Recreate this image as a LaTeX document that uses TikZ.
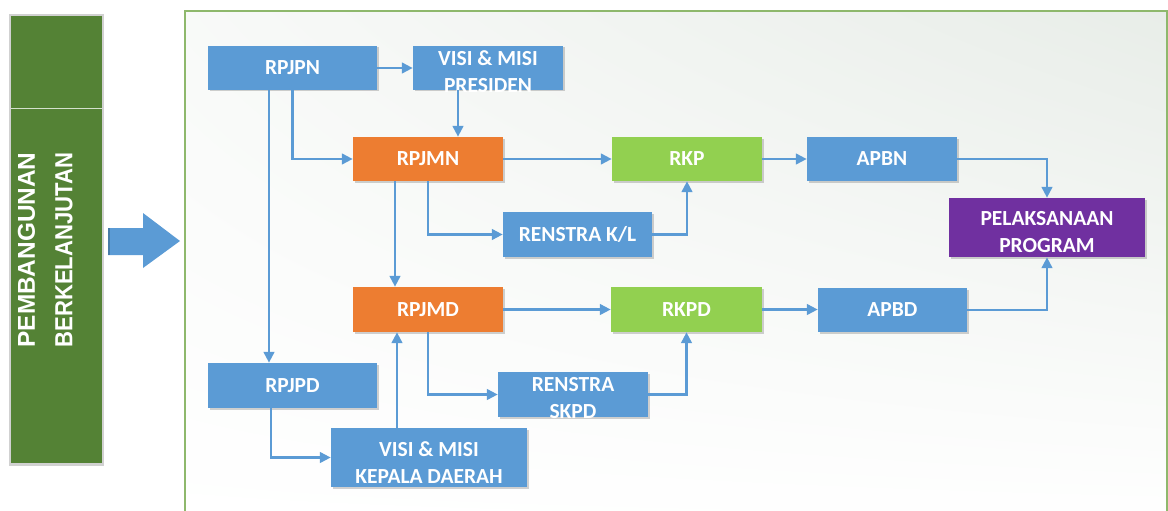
\documentclass[tikz,border=0pt]{standalone}
\usepackage{fontspec}
\setmainfont{Carlito}[BoldFont={Carlito Bold}]
\newfontfamily\sidefont{Liberation Sans Bold}
\usetikzlibrary{arrows.meta,shadows,shadings,calc}
\definecolor{cblue}{HTML}{5B9BD5}
\definecolor{corange}{HTML}{ED7D31}
\definecolor{clime}{HTML}{92D050}
\definecolor{cpurple}{HTML}{7030A0}
\definecolor{cdgreen}{HTML}{548235}
\definecolor{cframe}{HTML}{8EB86C}
\definecolor{cpanel}{HTML}{E8EDE8}
\begin{document}
\begin{tikzpicture}[x=1pt,y=-1pt,
  boxbase/.style={inner sep=0pt, text=white, align=center,
    font=\fontsize{21.5}{27}\selectfont\bfseries,
    drop shadow={shadow xshift=1.5pt, shadow yshift=-1.5pt, opacity=0.3, fill=black!60}},
  bluebox/.style={boxbase, fill=cblue},
  orangebox/.style={boxbase, fill=corange},
  limebox/.style={boxbase, fill=clime},
  purplebox/.style={boxbase, fill=cpurple},
  txt/.style={inner sep=0pt, text=white, align=center,
    font=\fontsize{21.5}{27}\selectfont\bfseries},
  conn/.style={draw=cblue, line width=2.8pt},
  arr/.style={conn, -{Triangle[length=11pt,width=10.5pt]}},
]
\useasboundingbox (0,0) rectangle (1168,511);
% panel
\shade[upper right=cpanel, upper left=cpanel!30!white, lower left=white, lower right=white] (185,11) rectangle (1167,530);
\draw[cframe, line width=1.6pt] (185,530) -- (185,11) -- (1167,11) -- (1167,530);

% left bar
\fill[black!18] (9,14) rectangle (104,466);
\node[fill=cdgreen, minimum width=91pt, minimum height=447pt, inner sep=0pt] (bar) at (56.5,239.5) {};
\draw[white!75!cdgreen, line width=1pt] (bar.west |- 0,108) -- (bar.east |- 0,108);
\node[rotate=90, text=white, inner sep=0pt] (l1) at (26.5,250) {\resizebox{195pt}{17pt}{\sidefont PEMBANGUNAN}};
\node[rotate=90, text=white, inner sep=0pt] (l2) at (64,250) {\resizebox{195pt}{17pt}{\sidefont BERKELANJUTAN}};

% big arrow
\fill[cblue] (108,228) -- (143,228) -- (143,213) -- (180,241) -- (143,268) -- (143,255) -- (108,255) -- cycle;
\fill[cblue!80!black] (108,228) rectangle (110,255);

% nodes
\node[bluebox, minimum width=169pt, minimum height=44pt] (rpjpn) at (292.5,68) {RPJPN};
\node[bluebox, minimum width=150pt, minimum height=44pt] (visip) at (488,68) {};
\node[txt] (visipt) at (488,71.5) {VISI \& MISI\\PRESIDEN};
\node[orangebox, minimum width=150pt, minimum height=44pt] (rpjmn) at (428,159) {RPJMN};
\node[limebox, minimum width=150pt, minimum height=44pt] (rkp) at (687,159) {RKP};
\node[bluebox, minimum width=150pt, minimum height=44pt] (apbn) at (882,159) {APBN};
\node[bluebox, minimum width=149pt, minimum height=45pt] (renkl) at (577.5,234.5) {RENSTRA K/L};
\node[purplebox, minimum width=196pt, minimum height=59pt] (pelak) at (1047,227.5) {};
\node[txt] (pelakt) at (1047,232) {PELAKSANAAN\\PROGRAM};
\node[orangebox, minimum width=150pt, minimum height=45pt] (rpjmd) at (428,309.5) {RPJMD};
\node[limebox, minimum width=151pt, minimum height=45pt] (rkpd) at (686.5,309.5) {RKPD};
\node[bluebox, minimum width=149pt, minimum height=44pt] (apbd) at (892.5,310) {APBD};
\node[bluebox, minimum width=150pt, minimum height=45pt] (renskpd) at (573,394.5) {};
\node[txt] (renskpdt) at (573,398) {RENSTRA\\SKPD};
\node[bluebox, minimum width=169pt, minimum height=45pt] (rpjpd) at (292.5,385.5) {RPJPD};
\node[bluebox, minimum width=196pt, minimum height=59pt] (visik) at (429,457.5) {};
\node[txt] (visikt) at (429,463) {VISI \& MISI\\KEPALA DAERAH};

% connectors
\draw[arr] (rpjpn.east) -- (visip.west);
\draw[arr] ([xshift=-30pt]visip.south) -- ([xshift=-30pt]visip.south |- rpjmn.north);
\draw[arr] (rpjpn.south) |- (rpjmn.west);
\draw[arr] ([xshift=-23.5pt]rpjpn.south) -- ([xshift=-23.5pt]rpjpd.north);
\draw[arr] (rpjmn.east) -- (rkp.west);
\draw[arr] ([xshift=-33pt]rpjmn.south) -- ([xshift=-33pt]rpjmd.north);
\draw[arr] (rpjmn.south) |- (renkl.west);
\draw[arr] (renkl.east) -| (rkp.south);
\draw[arr] (rkp.east) -- (apbn.west);
\draw[arr] (apbn.east) -| (pelak.north);
\draw[arr] (rpjmd.east) -- (rkpd.west);
\draw[arr] (rkpd.east) -- (rkpd.east -| apbd.west);
\draw[arr] (apbd.east) -| (pelak.south);
\draw[arr] (rpjmd.south) |- (renskpd.west);
\draw[arr] (renskpd.east) -| (rkpd.south);
\draw[arr] ([xshift=-21.5pt]rpjpd.south) |- (visik.west);
\draw[arr] ([xshift=-32pt]visik.north) -- ([xshift=-32pt]visik.north |- rpjmd.south);
\end{tikzpicture}
\end{document}
